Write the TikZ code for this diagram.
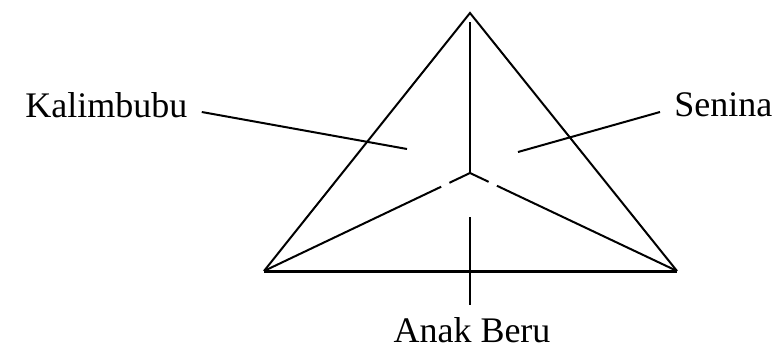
\documentclass[tikz,border=0pt]{standalone}
\usepackage{fontspec}
\setmainfont{Liberation Serif}
\usetikzlibrary{calc}

\begin{document}
\begin{tikzpicture}[
  x=0.5pt, y=-0.5pt,
  lbl/.style={font=\fontsize{18}{20}\selectfont, inner sep=0pt},
  edge/.style={line width=1pt, line join=miter},
  leader/.style={line width=1pt}
]
\useasboundingbox (0,0) rectangle (782,359);

% Triangle corners and centre
\coordinate (top)   at (470,13);
\coordinate (left)  at (264,271);
\coordinate (right) at (677,271);
\coordinate (mid)   at (470,173);

% Outline
\draw[edge] (left) -- (top) -- (right);
\draw[line width=1.5pt] (left) -- (right);

% Inner lines
\draw[edge] ($(top)+(0,9)$) -- (mid);
\draw[edge] (mid) -- ($(mid)!0.10!(left)$);
\draw[edge] ($(mid)!0.14!(left)$) -- (left);
\draw[edge] (mid) -- ($(mid)!0.09!(right)$);
\draw[edge] ($(mid)!0.13!(right)$) -- (right);

% Labels
\node[lbl, anchor=base west] (kal) at (25,117)  {Kalimbubu};
\node[lbl, anchor=base west] (sen) at (674,116) {Senina};
\node[lbl, anchor=base]      (ana) at (472,342) {Anak Beru};

% Leader lines
\coordinate (kalEnd) at (407,149);
\coordinate (senEnd) at (518,152);
\coordinate (anaTop) at (470,217);
\draw[leader] ($(kal.base east)+(14,-5)$) -- (kalEnd);
\draw[leader] ($(sen.base west)+(-14,-4)$) -- (senEnd);
\draw[leader] (anaTop) -- ($(ana.north)+(-2,-12)$);

\end{tikzpicture}
\end{document}
